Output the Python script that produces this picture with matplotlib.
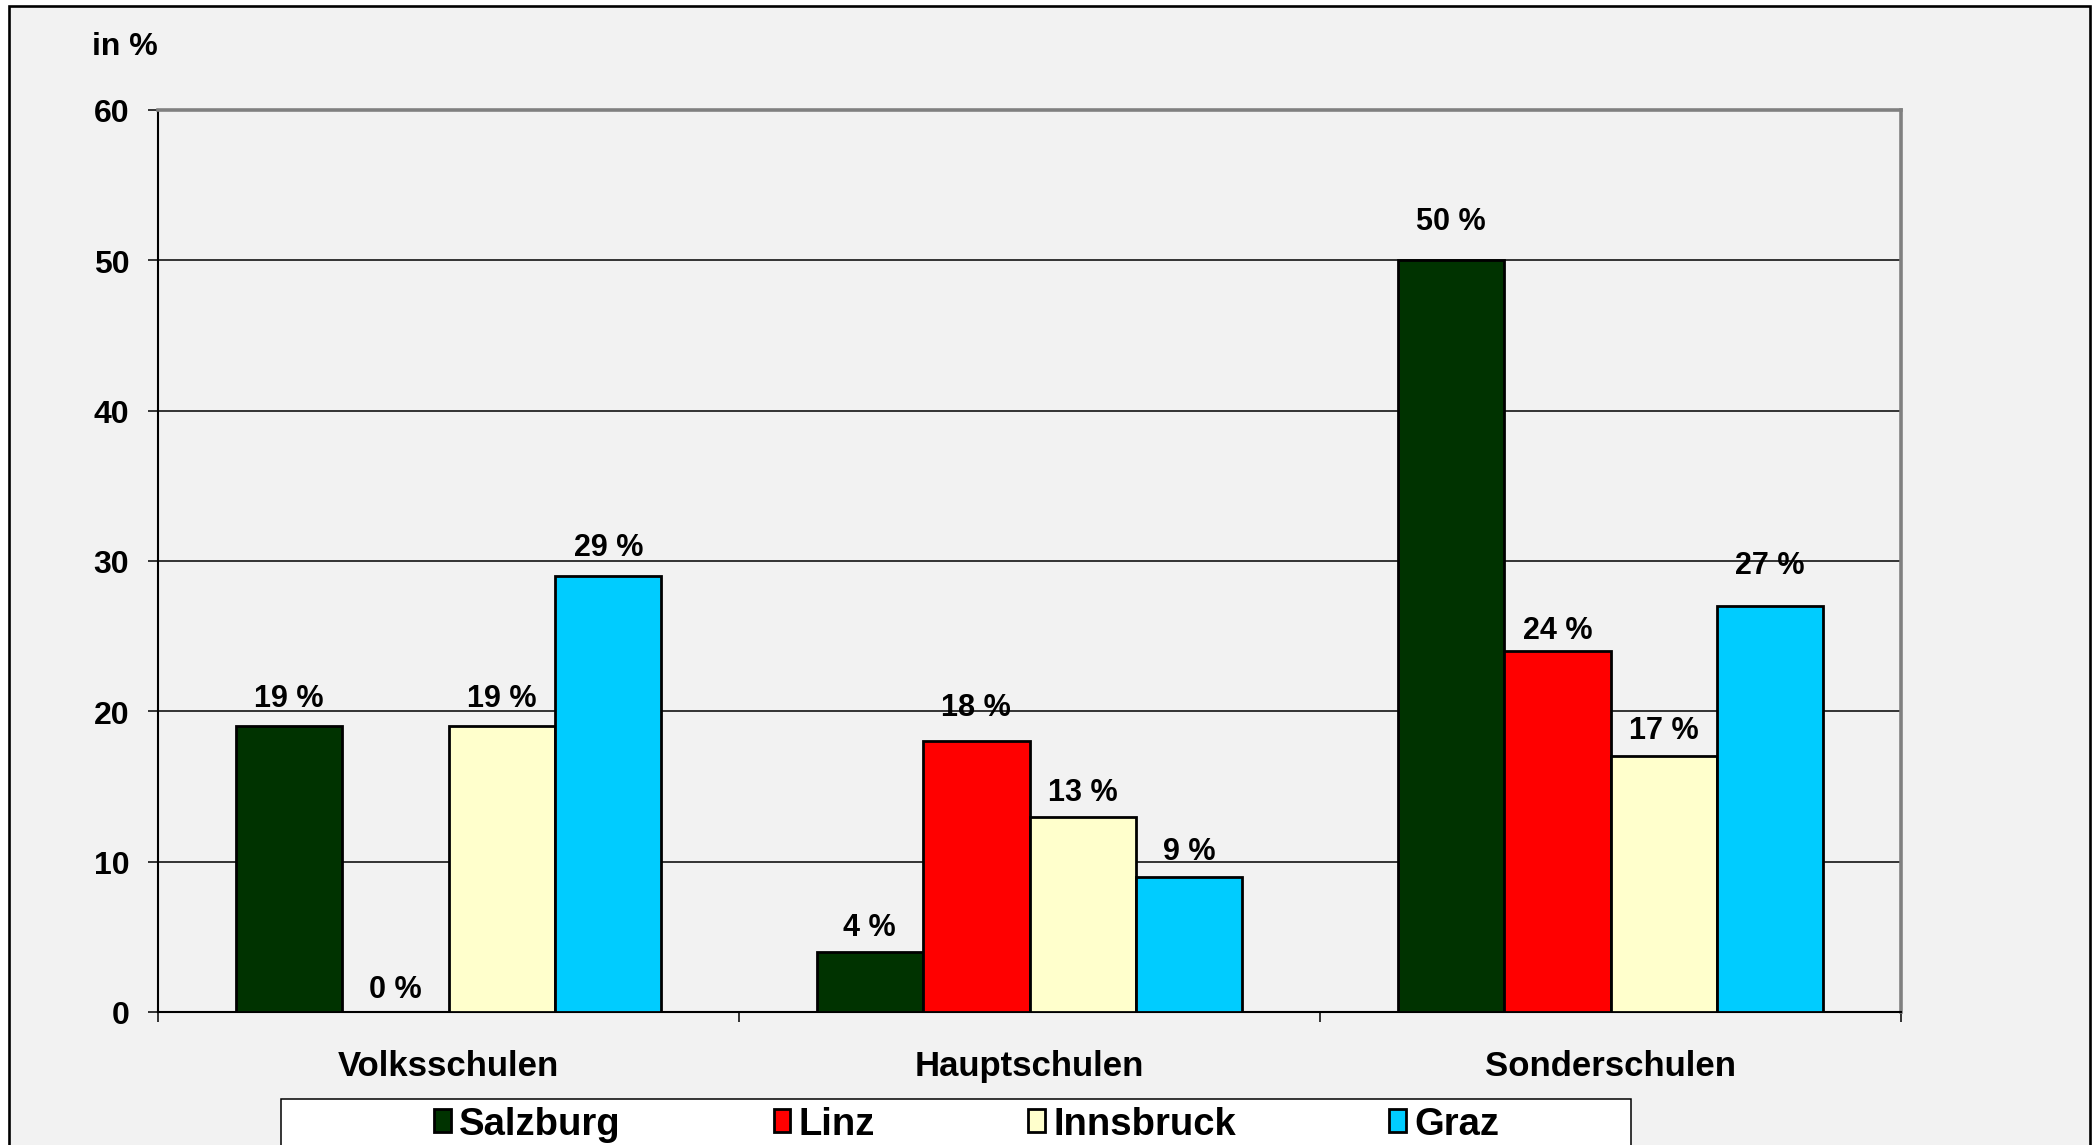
import matplotlib
matplotlib.use("Agg")
import matplotlib.pyplot as plt
from matplotlib.patches import Rectangle, Patch
import numpy as np

plt.rcParams['font.family'] = ['Liberation Sans', 'DejaVu Sans']
plt.rcParams['font.weight'] = 'bold'

# Data
categories = ["Volksschulen", "Hauptschulen", "Sonderschulen"]
cities = ["Salzburg", "Linz", "Innsbruck", "Graz"]
salzburg = [19, 4, 50]
linz = [0, 18, 24]
innsbruck = [19, 13, 17]
graz = [29, 9, 27]
y_ticks = [0, 10, 20, 30, 40, 50, 60]

series = [salzburg, linz, innsbruck, graz]
colors = ["#003300", "#FF0000", "#FFFFCC", "#00CCFF"]
# vertical gap (pixels) between each bar top and its value label
label_gap_px = [[13, 10, 24], [8, 19, 6], [13, 10, 11], [14, 11, 26]]

W, H, DPI = 2099, 1146, 100
fig = plt.figure(figsize=(W / DPI, (H - 0.01) / DPI), dpi=DPI, facecolor="white")

# Chart area background with black frame
fig.patches.append(Rectangle((9 / W, -0.05), (2090 - 9) / W, 1.05 - 7 / H,
                             transform=fig.transFigure, facecolor="#F2F2F2",
                             edgecolor="black", linewidth=1.9, zorder=-2))

left, right, top, bottom = 158, 1901, 111, 1013
ax = fig.add_axes([left / W, (H - bottom) / H, (right - left) / W, (bottom - top) / H])
ax.set_facecolor("#F2F2F2")
ax.set_zorder(2)

n = len(series)
bw = 0.1833
centers = np.arange(len(categories)) + 0.5
for i, (vals, col) in enumerate(zip(series, colors)):
    xs = centers + (i - (n - 1) / 2) * bw
    ax.bar(xs, vals, width=bw, color=col, edgecolor="black", linewidth=2.0, zorder=3)
    for x, v, g in zip(xs, vals, label_gap_px[i]):
        ax.annotate(f"{v} %", (x, v), xytext=(0, g * 72 / DPI), textcoords="offset points",
                    ha="center", va="bottom", fontsize=22, fontweight="bold", zorder=4)

ax.set_xlim(0, len(categories))
ax.set_ylim(0, 60)
ax.set_yticks(y_ticks)
ax.set_yticklabels([str(t) for t in y_ticks], fontsize=23, fontweight="bold")
ax.set_xticks(np.arange(len(categories) + 1))
ax.set_xticklabels([])
ax.set_xticks(centers, minor=True)
ax.set_xticklabels(categories, minor=True, fontsize=25, fontweight="bold")

ax.tick_params(axis="y", direction="out", length=7.2, width=1.1, pad=13.5, colors="black")
ax.tick_params(axis="x", which="major", direction="out", length=7.2, width=1.1)
ax.tick_params(axis="x", which="minor", length=0, pad=27)

ax.yaxis.grid(True, color="black", linewidth=1.1)
ax.xaxis.grid(False)
ax.set_axisbelow(True)

for s in ("top", "right"):
    ax.spines[s].set_color("#808080")
    ax.spines[s].set_linewidth(2.6)
for s in ("left", "bottom"):
    ax.spines[s].set_color("black")
    ax.spines[s].set_linewidth(1.5)

fig.text(92 / W, (H - 55) / H, "in %", fontsize=23, fontweight="bold",
         ha="left", va="baseline")

# Legend box
fig.patches.append(Rectangle((281 / W, -0.05), (1631 - 281) / W, 0.05 + (H - 1100) / H,
                             transform=fig.transFigure, facecolor="white",
                             edgecolor="black", linewidth=1.1, zorder=3))
handles = [Patch(facecolor=c, edgecolor="black", linewidth=2.0) for c in colors]
leg = fig.legend(handles, cities, loc="upper left", bbox_to_anchor=(434 / W, (H - 1107) / H),
                 ncol=4, frameon=False, borderpad=0, borderaxespad=0,
                 handlelength=0.44, handleheight=0.55, handletextpad=0.22,
                 columnspacing=4.0, prop={"family": "Liberation Sans", "weight": "bold", "size": 27.5})
leg.set_zorder(5)

fig.savefig("out.png", dpi=DPI, facecolor="white")
